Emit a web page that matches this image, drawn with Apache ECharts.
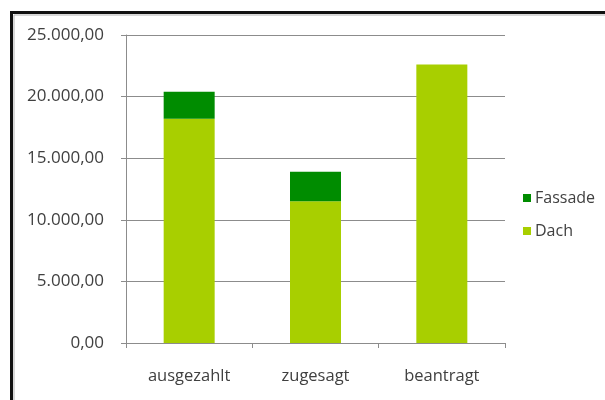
<!DOCTYPE html>
<html>
<head>
<meta charset="utf-8">
<script src="https://cdn.jsdelivr.net/npm/echarts@6/dist/echarts.min.js"></script>
<style>
html,body{margin:0;padding:0;background:#fff;}
#chart{width:605px;height:400px;}
</style>
</head>
<body>
<div id="chart"></div>
<script>
const categories = ['ausgezahlt', 'zugesagt', 'beantragt'];
const dach = [18200, 11500, 22600];
const fassade = [2200, 2400, 0];
const yTicks = [0, 5000, 10000, 15000, 20000, 25000];

function fmt(v) {
  const s = Math.round(v).toString().replace(/\B(?=(\d{3})+(?!\d))/g, '.');
  return s + ',00';
}

const chart = echarts.init(document.getElementById('chart'), null, {renderer: 'canvas'});
const font = '"Open Sans", sans-serif';
chart.setOption({
  animation: false,
  backgroundColor: '#ffffff',
  graphic: [{
    type: 'rect',
    shape: {x: 11.5, y: 12.5, width: 800, height: 600},
    style: {fill: 'none', stroke: '#111111', lineWidth: 3},
    z: 100
  }, {
    type: 'rect',
    shape: {x: 14, y: 15, width: 800, height: 600},
    style: {fill: 'none', stroke: '#b0b0b0', lineWidth: 1},
    z: 100
  }],
  grid: {left: 126, right: 100, top: 35, bottom: 57, containLabel: false},
  legend: {
    orient: 'vertical',
    left: 518,
    top: 185,
    itemWidth: 8,
    itemHeight: 8,
    itemGap: 17,
    icon: 'rect',
    data: ['Fassade', 'Dach'],
    textStyle: {fontFamily: font, fontSize: 16, color: '#404040', padding: [0, 0, 0, -1]}
  },
  xAxis: {
    type: 'category',
    data: categories,
    axisLine: {lineStyle: {color: '#8c8c8c', width: 1}},
    axisTick: {show: true, length: 5, lineStyle: {color: '#8c8c8c'}},
    axisLabel: {fontFamily: font, fontSize: 16.5, color: '#404040', margin: 25}
  },
  yAxis: {
    type: 'value',
    min: 0,
    max: 25000,
    interval: 5000,
    axisLine: {show: true, lineStyle: {color: '#8c8c8c', width: 1}},
    axisTick: {show: true, length: 5, lineStyle: {color: '#8c8c8c'}},
    splitLine: {show: true, lineStyle: {color: '#8c8c8c', width: 1}},
    axisLabel: {fontFamily: font, fontSize: 17, color: '#404040', margin: 22,
      formatter: function (v) { return fmt(v); }}
  },
  series: [{
    name: 'Dach',
    type: 'bar',
    stack: 'total',
    barWidth: 51,
    data: dach,
    itemStyle: {color: '#a8cf00'}
  }, {
    name: 'Fassade',
    type: 'bar',
    stack: 'total',
    barWidth: 51,
    data: fassade,
    itemStyle: {color: '#008c00'}
  }]
});
</script>
</body>
</html>
